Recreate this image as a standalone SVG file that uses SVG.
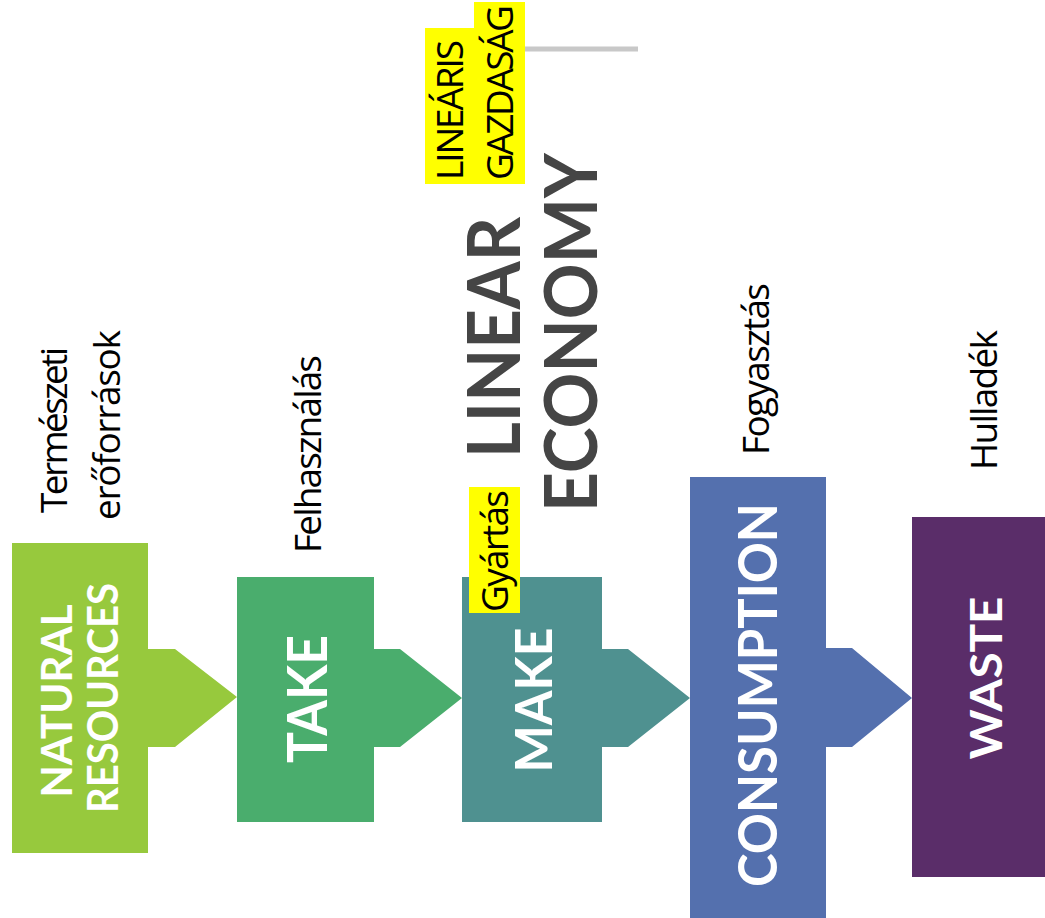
<svg xmlns="http://www.w3.org/2000/svg" width="1045" height="918" viewBox="0 0 1045 918">
<style>
.lbl{font-family:"Open Sans","Noto Sans",sans-serif;font-size:37px;fill:#000}
.box{font-family:Lato,"Open Sans",sans-serif;font-weight:700;fill:#fff;text-anchor:middle}
.title{font-family:Lato,"Open Sans",sans-serif;font-weight:700;fill:#454545;font-size:73px}
.hl{fill:#ffff00}
</style>
<rect width="1045" height="918" fill="#fff"/>
<g id="title">
<rect class="hl" x="425" y="28" width="49" height="156"/>
<rect class="hl" x="474" y="2" width="51" height="182"/>
<text class="lbl" transform="translate(463,180) rotate(-90)" textLength="140">LINEÁRIS</text>
<text class="lbl" transform="translate(513,180) rotate(-90)" textLength="175">GAZDASÁG</text>
<line x1="525" y1="49" x2="638" y2="49" stroke="#c8c8c8" stroke-width="5"/>
<text class="title" transform="translate(520,458) rotate(-90)" textLength="241" lengthAdjust="spacingAndGlyphs">LINEAR</text>
<text class="title" transform="translate(597,512) rotate(-90)" textLength="359" lengthAdjust="spacingAndGlyphs">ECONOMY</text>
</g>
<g id="natural-resources">
<path d="M12,543 H148 V649 H175 L237,697 L175,747 H148 V853 H12 Z" fill="#97c93d"/>
<text class="box" font-size="42" transform="translate(72,701) rotate(-90)" textLength="193" lengthAdjust="spacingAndGlyphs">NATURAL</text>
<text class="box" font-size="42" transform="translate(118,698) rotate(-90)" textLength="230" lengthAdjust="spacingAndGlyphs">RESOURCES</text>
<text class="lbl" transform="translate(67,513) rotate(-90)" textLength="166">Természeti</text>
<text class="lbl" transform="translate(120,520) rotate(-90)" textLength="190">erőforrások</text>
</g>
<g id="take">
<path d="M237,577 H374 V649 H400 L462,698 L400,747 H374 V822 H237 Z" fill="#4aad6d"/>
<text class="box" font-size="55" transform="translate(327,699) rotate(-90)" textLength="128" lengthAdjust="spacingAndGlyphs">TAKE</text>
<text class="lbl" transform="translate(321,553) rotate(-90)" textLength="198">Felhasználás</text>
</g>
<g id="make">
<path d="M462,577 H602 V649 H628 L690,698 L628,747 H602 V822 H462 Z" fill="#4f9190"/>
<text class="box" font-size="52" transform="translate(552,700) rotate(-90)" textLength="145" lengthAdjust="spacingAndGlyphs">MAKE</text>
<rect class="hl" x="469" y="487" width="51" height="126"/>
<text class="lbl" transform="translate(508,612) rotate(-90)" textLength="122">Gyártás</text>
</g>
<g id="consumption">
<path d="M690,477 H826 V648 H852 L912,698 L852,747 H826 V918 H690 Z" fill="#5470ae"/>
<text class="box" font-size="54" transform="translate(777,695) rotate(-90)" textLength="384" lengthAdjust="spacingAndGlyphs">CONSUMPTION</text>
<text class="lbl" transform="translate(769,455) rotate(-90)" textLength="172">Fogyasztás</text>
</g>
<g id="waste">
<rect x="912" y="517" width="140" height="360" fill="#5a2d69"/>
<text class="box" font-size="44" transform="translate(1002,678) rotate(-90)" textLength="163" lengthAdjust="spacingAndGlyphs">WASTE</text>
<text class="lbl" transform="translate(997,470) rotate(-90)" textLength="140">Hulladék</text>
</g>
<g id="connectors"></g>
</svg>
